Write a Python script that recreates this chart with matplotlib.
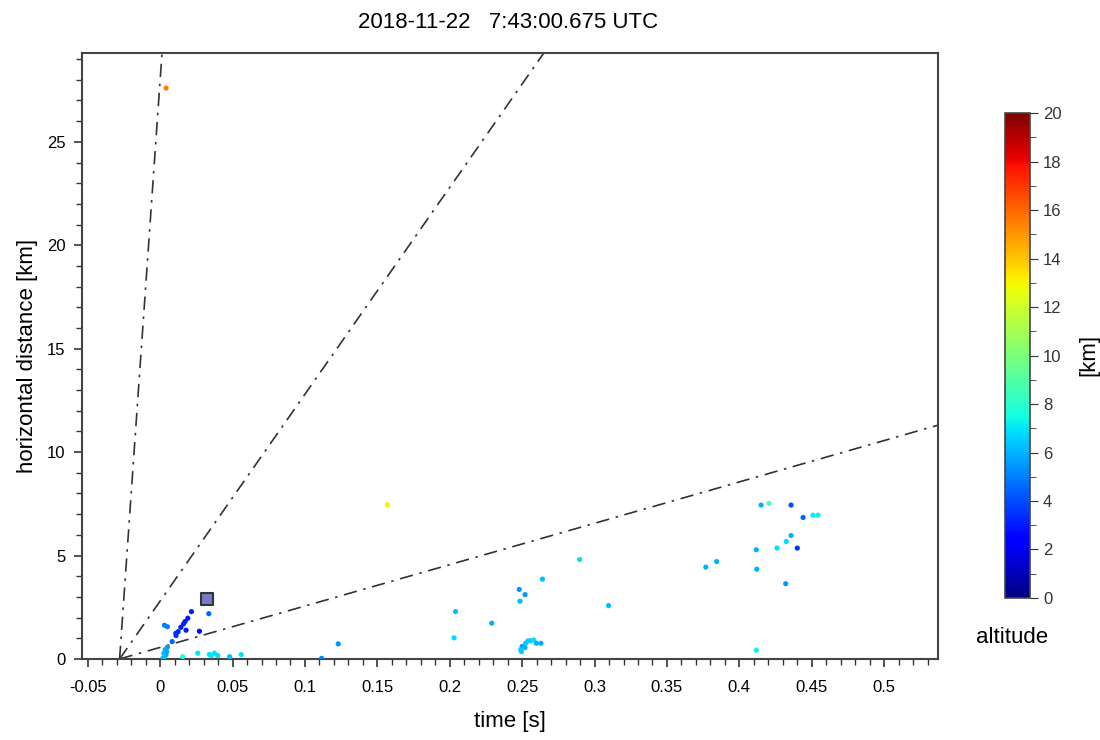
import matplotlib.pyplot as plt
import numpy as np
from matplotlib.ticker import MultipleLocator

plt.rcParams['font.family'] = ['Liberation Sans', 'DejaVu Sans']

# source times [s], horizontal distance [km], altitude [km]
time_s = [0.0041, 0.157,
          0.0216, 0.0336, 0.0191, 0.0172, 0.0161, 0.0143, 0.0179, 0.0271, 0.0124, 0.0108, 0.0110,
          0.0030, 0.0050, 0.0083, 0.0050, 0.0035, 0.0045, 0.0025, 0.0040, 0.0030, 0.0020,
          0.0156, 0.0260, 0.0340, 0.0352, 0.0375, 0.0398, 0.0480, 0.0560,
          0.1115, 0.1230,
          0.2640, 0.2480, 0.2520, 0.2485, 0.2040, 0.2290, 0.2030,
          0.2500, 0.2495, 0.2520, 0.2524, 0.2540, 0.2557, 0.2580, 0.2598, 0.2630, 0.2490,
          0.2897, 0.3097,
          0.4150, 0.4205, 0.4357, 0.4440, 0.4508, 0.4543, 0.4357, 0.4324, 0.4260, 0.4400,
          0.4117, 0.3843, 0.3768, 0.4120, 0.4320, 0.4117]
dist_km = [27.6, 7.45,
           2.29, 2.19, 1.97, 1.81, 1.69, 1.53, 1.39, 1.34, 1.32, 1.24, 1.13,
           1.63, 1.56, 0.84, 0.57, 0.45, 0.35, 0.28, 0.20, 0.12, 0.05,
           0.11, 0.28, 0.22, 0.16, 0.28, 0.16, 0.11, 0.21,
           0.03, 0.73,
           3.86, 3.36, 3.11, 2.79, 2.29, 1.73, 1.02,
           0.60, 0.35, 0.55, 0.76, 0.87, 0.88, 0.92, 0.76, 0.76, 0.45,
           4.81, 2.58,
           7.44, 7.52, 7.44, 6.84, 6.95, 6.95, 5.97, 5.68, 5.36, 5.36,
           5.28, 4.71, 4.44, 4.34, 3.64, 0.42]
alt_km = [15.5, 13.0,
          3.0, 4.5, 3.0, 3.0, 3.2, 3.0, 3.0, 2.5, 3.2, 3.5, 3.5,
          5.0, 5.0, 4.5, 5.5, 5.8, 5.8, 6.2, 5.8, 6.2, 6.2,
          7.8, 7.0, 7.0, 7.0, 7.0, 6.8, 6.2, 7.0,
          5.0, 5.5,
          6.2, 5.5, 5.5, 6.2, 6.2, 6.0, 6.8,
          5.5, 6.5, 6.0, 6.5, 6.5, 6.5, 6.8, 6.0, 6.0, 6.5,
          6.8, 6.2,
          6.0, 8.8, 4.0, 4.5, 7.2, 7.2, 6.0, 6.8, 6.8, 3.5,
          6.0, 6.0, 6.0, 6.0, 5.5, 7.2]

# reference source
ref_t, ref_d = 0.0324, 2.9

# speed guide lines [km/s] from a common start time
t0 = -0.028
speeds = [1000, 100, 20]

fig = plt.figure(figsize=(11, 7.4), dpi=100)
ax = fig.add_axes([0.0745, 0.1095, 0.778, 0.819])

tt = np.array([t0, 0.6])
for v in speeds:
    ax.plot(tt, v * (tt - t0), color='#333333', lw=1.2, ls=(0, (8, 4, 1.5, 4)))

sc = ax.scatter(time_s, dist_km, c=alt_km, cmap='jet', vmin=0, vmax=20, s=14,
                edgecolors='none', zorder=3)
ax.scatter([ref_t], [ref_d], marker='s', s=70, facecolor='#7878c8',
           edgecolor='#333333', linewidth=1.5, zorder=4)

ax.set_xlim(-0.054, 0.537)
ax.set_ylim(0, 29.3)
ax.xaxis.set_minor_locator(MultipleLocator(0.01))
ax.yaxis.set_major_locator(MultipleLocator(5))
ax.yaxis.set_minor_locator(MultipleLocator(1))
ax.set_xticks(np.arange(-0.05, 0.51, 0.05))
ax.set_xticklabels(['-0.05', '0', '0.05', '0.1', '0.15', '0.2', '0.25', '0.3',
                    '0.35', '0.4', '0.45', '0.5'])
ax.tick_params(which='both', direction='out', colors='#333333', labelcolor='black',
               labelsize=12)
ax.tick_params(which='major', length=6, width=1.2)
ax.tick_params(which='minor', length=4, width=1)
ax.tick_params(axis='x', pad=9)
ax.tick_params(axis='y', pad=6)
for s in ax.spines.values():
    s.set_color('#444444')
    s.set_linewidth(1.5)

ax.set_xlabel('time [s]', fontsize=16, labelpad=12)
ax.set_ylabel('horizontal distance [km]', fontsize=16, labelpad=6)
fig.text(0.462, 0.97, '2018-11-22   7:43:00.675 UTC', ha='center', va='center',
         fontsize=16)

cax = fig.add_axes([0.9136, 0.192, 0.0227, 0.655])
cb = fig.colorbar(sc, cax=cax)
cb.set_ticks(range(0, 21, 2))
cb.ax.yaxis.set_minor_locator(MultipleLocator(1))
cb.ax.tick_params(which='both', direction='out', colors='#333333',
                  labelcolor='#333333', labelsize=12)
cb.ax.tick_params(which='major', length=6)
cb.ax.tick_params(which='minor', length=4)
cb.outline.set_edgecolor('#444444')
cb.outline.set_linewidth(1.2)
fig.text(0.99, 0.52, '[km]', rotation=90, ha='center', va='center', fontsize=16)
fig.text(0.92, 0.139, 'altitude', ha='center', va='center', fontsize=16)

fig.savefig('out.png', dpi=100)
